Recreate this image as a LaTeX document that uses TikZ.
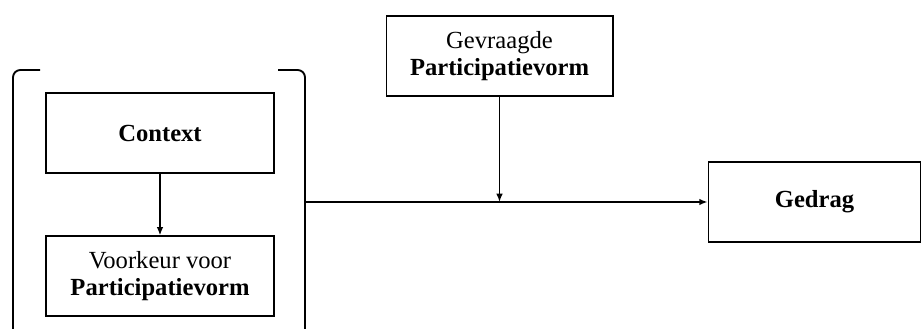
\documentclass[tikz,border=0pt]{standalone}
\usepackage{fontspec}
\setmainfont{Liberation Serif}
\usetikzlibrary{arrows.meta}
\tikzstyle{blok}=[draw=black, line width=0.6pt, minimum height=1.52cm, align=center, font=\fontsize{13.3}{14.5}\selectfont]
\tikzstyle{pijl}=[line width=0.9pt, -{Latex[length=4.5pt,width=3.6pt]}]

\begin{document}
\begin{tikzpicture}[x=0.019cm, y=-0.019cm]
          \useasboundingbox (0,0) rectangle (923,329);
          \node[blok, minimum width=4.33cm] (context) at (160,133){\textbf{Context}};
          \node[blok, minimum width=4.33cm] (voorkeur) at (160,276){Voorkeur voor\\\textbf{Participatievorm}};
          \node[blok, minimum width=4.31cm] (gevraagd) at (499.5,56){Gevraagde\\\textbf{Participatievorm}};
          \node[blok, minimum width=4.04cm] (gedrag) at (814.5,202){\textbf{Gedrag}};
          % haken om de linker blokken
          \draw[line width=1pt, rounded corners=4pt] (40,70) -- (13,70) -- (13,335);
          \draw[line width=1pt, rounded corners=4pt] (278,70) -- (305,70) -- (305,335);
          \coordinate (haak) at (305,202);
          \coordinate (knoop) at (gevraagd.south |- haak);
          \draw[pijl](context) -- (voorkeur);
          \draw[pijl](haak) -- (gedrag.west);
          \draw[pijl](gevraagd.south) -- (knoop);
        \end{tikzpicture}
\end{document}
